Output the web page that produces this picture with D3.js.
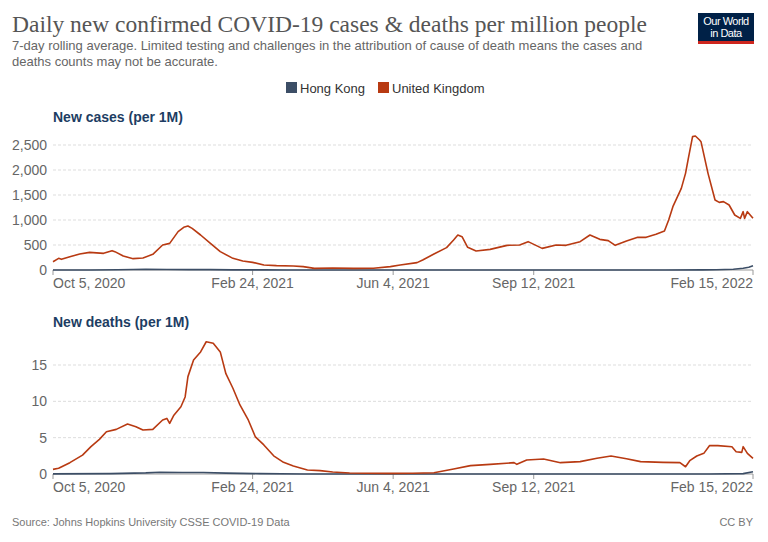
<!DOCTYPE html>
<html>
<head>
<meta charset="utf-8">
<script src="https://cdn.jsdelivr.net/npm/d3@7"></script>
<style>
  body { margin: 0; background: #fff; }
  text { font-family: "Liberation Sans", Arial, sans-serif; }
</style>
</head>
<body>
<div id="chart"></div>
<script>
// Series: [date, value per million]
const ukCases = [
  ["2020-10-05",166],["2020-10-09",233],["2020-10-11",213],["2020-10-17",267],["2020-10-24",320],
  ["2020-10-31",353],["2020-11-10",333],["2020-11-16",387],["2020-11-18",367],["2020-11-24",280],
  ["2020-12-01",227],["2020-12-08",240],["2020-12-15",313],["2020-12-22",500],["2020-12-27",533],
  ["2021-01-02",767],["2021-01-06",853],["2021-01-09",880],["2021-01-12",833],["2021-01-18",700],
  ["2021-01-25",533],["2021-02-01",367],["2021-02-10",233],["2021-02-17",180],["2021-02-24",153],
  ["2021-03-04",100],["2021-03-13",87],["2021-03-25",80],["2021-04-01",67],["2021-04-09",33],
  ["2021-04-22",40],["2021-05-07",33],["2021-05-21",35],["2021-06-02",67],["2021-06-09",100],
  ["2021-06-21",147],["2021-06-25",200],["2021-07-03",320],["2021-07-12",447],["2021-07-17",600],
  ["2021-07-20",700],["2021-07-23",667],["2021-07-27",453],["2021-08-02",380],["2021-08-12",413],
  ["2021-08-24",493],["2021-09-02",500],["2021-09-08",567],["2021-09-18",433],["2021-09-28",500],
  ["2021-10-05",493],["2021-10-15",567],["2021-10-22",700],["2021-10-29",613],["2021-11-04",587],
  ["2021-11-09",493],["2021-11-17",580],["2021-11-25",653],["2021-12-01",653],["2021-12-08",713],
  ["2021-12-14",780],["2021-12-17",1000],["2021-12-20",1267],["2021-12-26",1633],["2021-12-29",1933],
  ["2021-12-31",2233],["2022-01-03",2667],["2022-01-05",2680],["2022-01-08",2600],["2022-01-09",2567],
  ["2022-01-14",1933],["2022-01-19",1400],["2022-01-22",1353],["2022-01-25",1367],["2022-01-29",1300],
  ["2022-02-02",1100],["2022-02-06",1033],["2022-02-08",1167],["2022-02-09",1033],["2022-02-11",1167],
  ["2022-02-15",1033]
];

const hkCases = [
  ["2020-10-05",1.5],["2020-11-01",1.5],["2020-11-20",5],["2020-12-01",11],["2020-12-10",13],
  ["2020-12-25",10],["2021-01-10",7],["2021-01-25",8],["2021-02-10",3],["2021-03-05",2],
  ["2021-03-20",1],["2021-04-15",1],["2021-05-15",0.3],["2021-12-15",0.5],["2022-01-10",2],
  ["2022-01-20",5],["2022-02-01",15],["2022-02-08",35],["2022-02-12",55],["2022-02-15",85]
];

const ukDeaths = [
  ["2020-10-05",0.64],["2020-10-09",0.78],["2020-10-17",1.56],["2020-10-26",2.6],["2020-11-01",3.76],
  ["2020-11-07",4.77],["2020-11-12",5.82],["2020-11-19",6.14],["2020-11-27",6.88],["2020-12-03",6.51],
  ["2020-12-08",6.05],["2020-12-15",6.14],["2020-12-22",7.43],["2020-12-25",7.65],["2020-12-27",6.97],
  ["2020-12-30",8.1],["2021-01-04",9.25],["2021-01-07",10.6],["2021-01-09",13.4],["2021-01-13",15.7],
  ["2021-01-18",16.8],["2021-01-22",18.2],["2021-01-27",18.0],["2021-02-01",16.8],["2021-02-05",13.8],
  ["2021-02-10",11.8],["2021-02-15",9.5],["2021-02-21",7.4],["2021-02-26",5.1],["2021-03-04",4.0],
  ["2021-03-11",2.5],["2021-03-18",1.6],["2021-03-25",1.1],["2021-04-04",0.55],["2021-04-13",0.46],
  ["2021-04-22",0.28],["2021-05-04",0.14],["2021-05-16",0.1],["2021-06-02",0.08],["2021-06-18",0.1],
  ["2021-07-03",0.18],["2021-07-17",0.69],["2021-07-29",1.15],["2021-08-12",1.33],["2021-08-29",1.56],
  ["2021-08-31",1.33],["2021-09-07",1.93],["2021-09-19",2.06],["2021-10-01",1.56],["2021-10-15",1.7],
  ["2021-10-27",2.16],["2021-11-06",2.48],["2021-11-17",2.11],["2021-11-27",1.7],["2021-12-13",1.6],
  ["2021-12-25",1.56],["2021-12-29",1.0],["2022-01-01",1.83],["2022-01-06",2.48],["2022-01-11",2.84],
  ["2022-01-15",3.9],["2022-01-21",3.9],["2022-01-31",3.76],["2022-02-03",3.07],["2022-02-07",2.98],
  ["2022-02-08",3.76],["2022-02-11",2.84],["2022-02-15",2.16]
];

const hkDeaths = [
  ["2020-10-05",0.02],["2020-11-15",0.05],["2020-12-10",0.15],["2020-12-20",0.25],["2021-01-05",0.2],
  ["2021-01-20",0.2],["2021-02-05",0.12],["2021-03-01",0.05],["2021-04-01",0.01],["2022-01-15",0.0],
  ["2022-02-08",0.05],["2022-02-15",0.3]
];

const xTickDates = ["2020-10-05","2021-02-24","2021-06-04","2021-09-12","2022-02-15"];
const casesTicks = [0, 500, 1000, 1500, 2000, 2500];
const deathsTicks = [0, 5, 10, 15];
const seriesNames = ["Hong Kong", "United Kingdom"];
const seriesColors = ["#3c4e66", "#b83a12"];

const W = 768, H = 542;
const parse = d3.timeParse("%Y-%m-%d");
const fmtTick = d3.timeFormat("%b %-d, %Y");

const svg = d3.select("#chart").append("svg")
  .attr("width", W).attr("height", H);

// Header
svg.append("text")
  .attr("x", 12).attr("y", 32)
  .style("font-family", "'Liberation Serif', 'DejaVu Serif', serif")
  .style("font-size", "23.5px")
  .attr("fill", "#555")
  .text("Daily new confirmed COVID-19 cases & deaths per million people");

const sub = ["7-day rolling average. Limited testing and challenges in the attribution of cause of death means the cases and",
             "deaths counts may not be accurate."];
svg.selectAll(".sub").data(sub).enter().append("text")
  .attr("class", "sub")
  .attr("x", 12).attr("y", (d, i) => 50 + i * 16)
  .style("font-size", "13px")
  .attr("fill", "#666")
  .text(d => d);

// Logo
const logo = svg.append("g").attr("transform", "translate(698,13)");
logo.append("rect").attr("width", 56).attr("height", 31).attr("fill", "#002147");
logo.append("rect").attr("y", 28).attr("width", 56).attr("height", 3).attr("fill", "#ce261e");
logo.selectAll("text").data(["Our World", "in Data"]).enter().append("text")
  .attr("x", 28).attr("y", (d, i) => 12 + i * 12)
  .attr("text-anchor", "middle")
  .style("font-size", "11px")
  .style("letter-spacing", "-0.5px")
  .attr("fill", "#fff")
  .text(d => d);

// Legend
const legendX = [286, 378];
seriesNames.forEach((name, i) => {
  svg.append("rect")
    .attr("x", legendX[i]).attr("y", 82)
    .attr("width", 11).attr("height", 11)
    .attr("fill", seriesColors[i]);
  svg.append("text")
    .attr("x", legendX[i] + 14).attr("y", 93)
    .style("font-size", "13px")
    .attr("fill", "#333")
    .text(name);
});

// Shared x scale
const xScale = d3.scaleTime()
  .domain([parse("2020-10-05"), parse("2022-02-15")])
  .range([53, 753]);

function panel(opts) {
  const y = d3.scaleLinear().domain(opts.domain).range([opts.bottom, opts.top]);
  const g = svg.append("g");

  g.append("text")
    .attr("x", 53).attr("y", opts.titleY)
    .style("font-size", "14px").style("font-weight", "bold")
    .attr("fill", "#1d3d63")
    .text(opts.title);

  // grid lines + y labels
  opts.ticks.forEach(t => {
    if (t > 0) {
      g.append("line")
        .attr("x1", 53).attr("x2", 753)
        .attr("y1", y(t)).attr("y2", y(t))
        .attr("stroke", "#ddd").attr("stroke-dasharray", "3,2");
    }
    g.append("text")
      .attr("x", 47).attr("y", y(t)).attr("dy", "0.35em")
      .attr("text-anchor", "end")
      .style("font-size", "14px")
      .attr("fill", "#666")
      .text(d3.format(",")(t));
  });

  // baseline
  g.append("line")
    .attr("x1", 53).attr("x2", 753)
    .attr("y1", opts.bottom).attr("y2", opts.bottom)
    .attr("stroke", "#999");

  // x ticks and labels
  xTickDates.forEach((ds, i) => {
    const xx = xScale(parse(ds));
    g.append("line")
      .attr("x1", xx).attr("x2", xx)
      .attr("y1", opts.bottom).attr("y2", opts.bottom + 5)
      .attr("stroke", "#999");
    g.append("text")
      .attr("x", xx).attr("y", opts.bottom + 18)
      .attr("text-anchor", i === 0 ? "start" : (i === xTickDates.length - 1 ? "end" : "middle"))
      .style("font-size", "14px")
      .attr("fill", "#666")
      .text(fmtTick(parse(ds)));
  });

  const line = d3.line()
    .x(d => xScale(parse(d[0])))
    .y(d => y(d[1]));

  opts.series.forEach((s, i) => {
    g.append("path")
      .datum(s)
      .attr("fill", "none")
      .attr("stroke", seriesColors[i])
      .attr("stroke-width", 1.6)
      .attr("stroke-linejoin", "round")
      .attr("d", line);
  });
}

panel({
  title: "New cases (per 1M)", titleY: 122,
  domain: [0, 2500], top: 145, bottom: 270,
  ticks: casesTicks, series: [hkCases, ukCases]
});

panel({
  title: "New deaths (per 1M)", titleY: 327,
  domain: [0, 15], top: 365, bottom: 474,
  ticks: deathsTicks, series: [hkDeaths, ukDeaths]
});

// Footer
svg.append("text")
  .attr("x", 12).attr("y", 526)
  .style("font-size", "11px").attr("fill", "#777")
  .text("Source: Johns Hopkins University CSSE COVID-19 Data");
svg.append("text")
  .attr("x", 753).attr("y", 526)
  .attr("text-anchor", "end")
  .style("font-size", "11px").attr("fill", "#777")
  .text("CC BY");
</script>
</body>
</html>
